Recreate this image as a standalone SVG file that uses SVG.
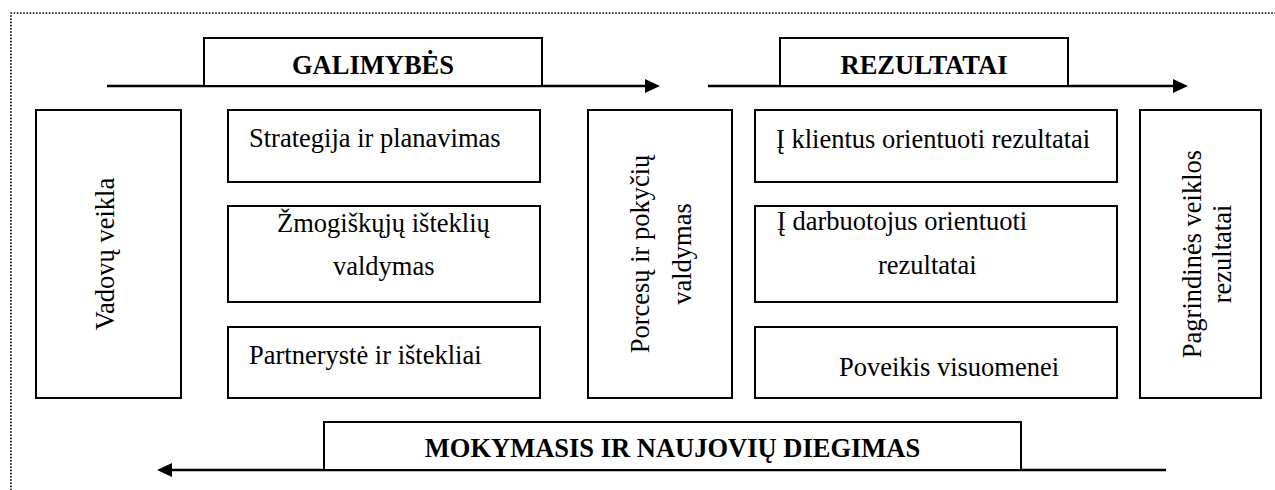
<svg xmlns="http://www.w3.org/2000/svg" width="1275" height="490" viewBox="0 0 1275 490">
<style>
.box{fill:#fff;stroke:#000;stroke-width:2}
.t{font-family:"Liberation Serif","Times New Roman",serif;font-size:26.5px;fill:#000}
.b{font-weight:bold}
.m{text-anchor:middle}
.ln{stroke:#000;stroke-width:2.5;fill:none}
.frame{stroke:#000;stroke-width:1.6;stroke-dasharray:1.6 1.6;fill:none}
</style>
<defs>
<marker id="ah" markerUnits="userSpaceOnUse" markerWidth="16" markerHeight="16" viewBox="0 0 16 16" refX="5" refY="7" orient="auto">
<path d="M0,0 L15,7 L0,14 z" fill="#000"/>
</marker>
</defs>
<path class="frame" d="M11,500 L11,13 L1280,13"/>
<g id="connectors">
<line class="ln" x1="107" y1="86" x2="650" y2="86" marker-end="url(#ah)"/>
<line class="ln" x1="708" y1="86" x2="1178" y2="86" marker-end="url(#ah)"/>
<line class="ln" x1="1166" y1="470" x2="167" y2="470" marker-end="url(#ah)"/>
</g>
<g id="galimybes">
<rect class="box" x="204" y="38" width="338" height="48"/>
<text class="t b m" x="373" y="74">GALIMYBĖS</text>
</g>
<g id="rezultatai">
<rect class="box" x="780" y="38" width="288" height="48"/>
<text class="t b m" x="924" y="74">REZULTATAI</text>
</g>
<g id="mokymasis">
<rect class="box" x="324" y="422" width="697" height="48"/>
<text class="t b m" x="672.5" y="457">MOKYMASIS IR NAUJOVIŲ DIEGIMAS</text>
</g>
<g id="vadovu">
<rect class="box" x="36" y="110" width="145" height="288"/>
<text class="t m" transform="translate(114,254) rotate(-90)">Vadovų veikla</text>
</g>
<g id="strategija">
<rect class="box" x="228" y="110" width="312" height="72"/>
<text class="t" x="249" y="147">Strategija ir planavimas</text>
</g>
<g id="zmogiskuju">
<rect class="box" x="228" y="206" width="312" height="96"/>
<text class="t" x="277" y="232">Žmogiškųjų išteklių</text>
<text class="t" x="333" y="275">valdymas</text>
</g>
<g id="partneryste">
<rect class="box" x="228" y="327" width="312" height="71"/>
<text class="t" x="249" y="364">Partnerystė ir ištekliai</text>
</g>
<g id="porcesu">
<rect class="box" x="588" y="110" width="144" height="288"/>
<text class="t m" transform="translate(649,254) rotate(-90)">Porcesų ir pokyčių</text>
<text class="t m" transform="translate(691,254) rotate(-90)">valdymas</text>
</g>
<g id="klientus">
<rect class="box" x="755" y="110" width="362" height="72"/>
<text class="t" x="776" y="148">Į klientus orientuoti rezultatai</text>
</g>
<g id="darbuotojus">
<rect class="box" x="755" y="206" width="362" height="96"/>
<text class="t" x="777" y="230">Į darbuotojus orientuoti</text>
<text class="t" x="878" y="274">rezultatai</text>
</g>
<g id="poveikis">
<rect class="box" x="755" y="327" width="362" height="71"/>
<text class="t" x="839" y="376">Poveikis visuomenei</text>
</g>
<g id="pagrindines">
<rect class="box" x="1140" y="110" width="121" height="288"/>
<text class="t m" transform="translate(1201,254) rotate(-90)">Pagrindinės veiklos</text>
<text class="t m" transform="translate(1231,254) rotate(-90)">rezultatai</text>
</g>
</svg>
